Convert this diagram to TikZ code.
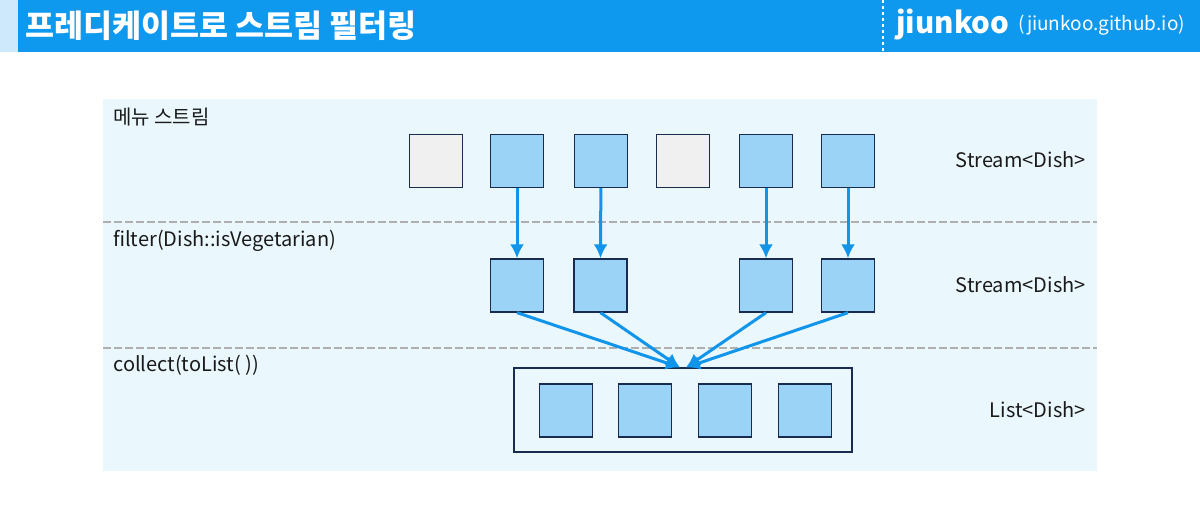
\documentclass[tikz,border=0pt]{standalone}
\usepackage{fontspec}
\setmainfont{Noto Sans CJK KR}
\usetikzlibrary{arrows.meta,positioning}

\definecolor{barblue}{HTML}{0E98EE}
\definecolor{stripblue}{HTML}{CDE9FB}
\definecolor{panelblue}{HTML}{EAF7FD}
\definecolor{dishblue}{HTML}{9BD3F7}
\definecolor{dishgray}{HTML}{F0F0F0}
\definecolor{edgenavy}{HTML}{1A2B50}
\definecolor{arrowblue}{HTML}{1195EA}
\definecolor{sepgray}{HTML}{AFAFAF}
\definecolor{textdark}{HTML}{1A1A1A}

\begin{document}
\begin{tikzpicture}[x=1pt,y=-1pt,>={Latex[length=14pt,width=14pt]},
                    semithick]
  \tikzset{dish/.style={draw=edgenavy,line width=1.3pt,fill=dishblue,
                        minimum size=53pt,inner sep=0pt},
           nodish/.style={dish,fill=dishgray},
           flow/.style={->,draw=arrowblue,line width=3pt},
           sep/.style={draw=sepgray,line width=1.6pt,dash pattern=on 8pt off 3pt},
           stage/.style={font=\fontsize{20}{22}\selectfont,text=textdark,inner sep=0pt}}

  \useasboundingbox (0,0) rectangle (1200,529);

  % header
  \fill[stripblue] (0,0) rectangle (18,52);
  \fill[barblue] (18,0) rectangle (1200,52);
  \draw[white,line width=2.4pt,dash pattern=on 3pt off 3pt] (883,0) -- (883,52);
  \node[anchor=west,text=white,inner sep=0pt,font=\fontsize{31.5}{33}\bfseries]
       (title) at (25,26) {프레디케이트로 스트림 필터링};
  \node[anchor=west,text=white,inner sep=0pt,font=\fontsize{29.5}{31}\bfseries]
       (brand) at (896,25) {jiunkoo};
  \node[anchor=west,text=white,inner sep=0pt,font=\fontsize{19}{21}\selectfont]
       (site) [right=9pt of brand] {(jiunkoo.github.io)};

  % stages
  \fill[panelblue] (103,99) rectangle (1097,471);
  \draw[sep] (103,222) -- (1097,222);
  \draw[sep] (103,348) -- (1097,348);

  \node[stage,anchor=west] (menu)    at (113,117) {메뉴 스트림};
  \node[stage,anchor=west] (filter)  at (113,241) {filter(Dish::isVegetarian)};
  \node[stage,anchor=west] (collect) at (113,365) {collect(toList(\ ))};
  \node[stage,anchor=east] (t1) at (1086,160) {Stream<Dish>};
  \node[stage,anchor=east] (t2) at (1086,285) {Stream<Dish>};
  \node[stage,anchor=east] (t3) at (1086,410) {List<Dish>};

  % menu stream
  \node[nodish] (s1) at (436,161) {};
  \node[dish]   (s2) at (517,161) {};
  \node[dish]   (s3) at (601,161) {};
  \node[nodish] (s4) at (683,161) {};
  \node[dish]   (s5) at (766,161) {};
  \node[dish]   (s6) at (848,161) {};

  % filtered stream
  \node[dish] (f1) at (517,285.5) {};
  \node[dish] (f2) at (600.5,285.5) {};
  \node[dish] (f3) at (766,285.5) {};
  \node[dish] (f4) at (848,285.5) {};

  % list
  \node[draw=edgenavy,line width=1.1pt,minimum width=338pt,minimum height=84pt,
        inner sep=0pt] (lst) at (683,410) {};
  \node[dish] (l1) at (566,410.5) {};
  \node[dish] (l2) at (645,410.5) {};
  \node[dish] (l3) at (725,410.5) {};
  \node[dish] (l4) at (805,410.5) {};

  \path (s2) edge[flow] (f1.north)
        (s3) edge[flow] (f2.north)
        (s5) edge[flow] (f3.north)
        (s6) edge[flow] (f4.north)
        (f1.south) edge[flow] ([xshift=-3pt]lst.north)
        (f2.south) edge[flow] ([xshift=-3pt]lst.north)
        (f3.south) edge[flow] ([xshift=3pt]lst.north)
        (f4.south) edge[flow] ([xshift=3pt]lst.north);
\end{tikzpicture}
\end{document}
